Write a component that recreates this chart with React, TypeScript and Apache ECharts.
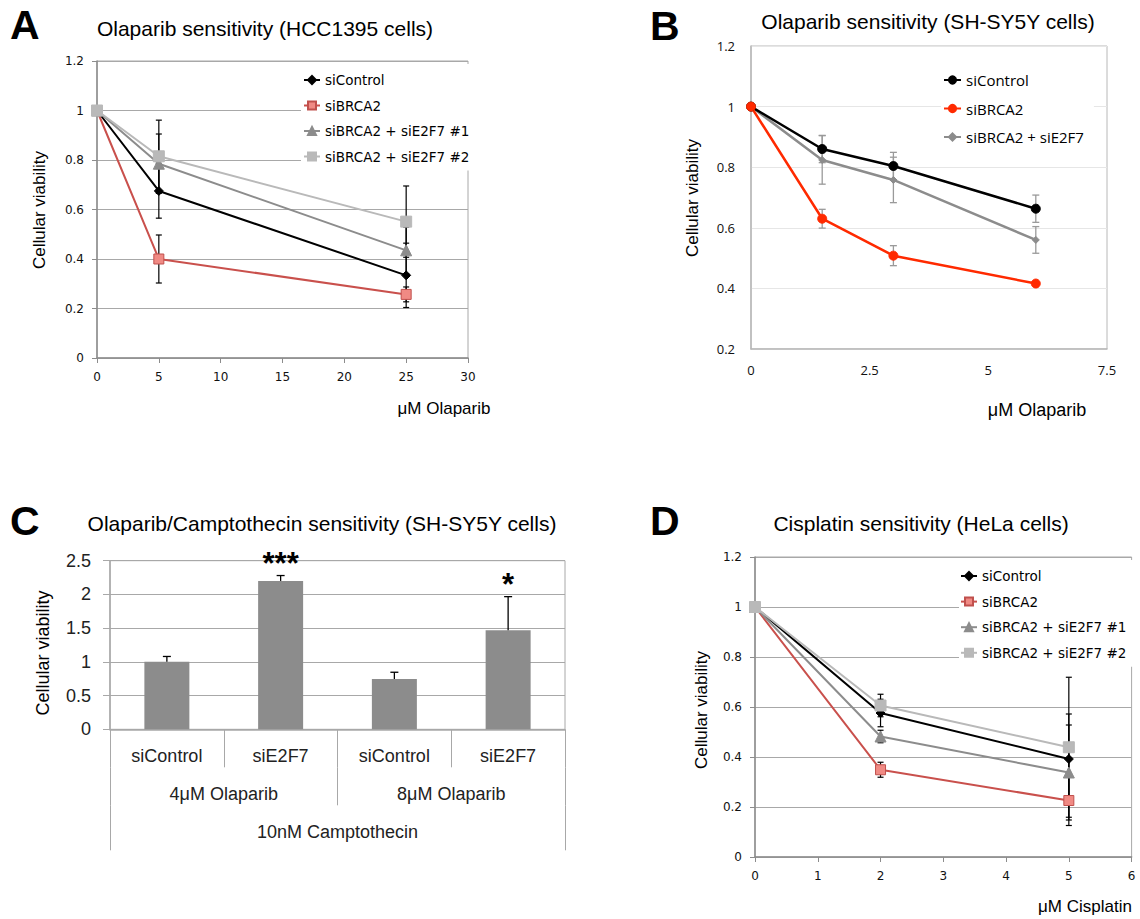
import React, { useEffect, useRef } from 'react';
import * as echarts from 'echarts';

const SANS = '"Liberation Sans", Arial, Helvetica, sans-serif';
const DV = '"DejaVu Sans", sans-serif';
const OS = '"Open Sans", sans-serif';

// ---------- Panel A data ----------
const A_X = [0, 5, 25];
const A_NAMES = ['siControl', 'siBRCA2', 'siBRCA2 + siE2F7 #1', 'siBRCA2 + siE2F7 #2'];
const A_SICONTROL = [1, 0.675, 0.334];
const A_SIBRCA2 = [1, 0.4, 0.257];
const A_E2F7_1 = [1, 0.785, 0.435];
const A_E2F7_2 = [1, 0.815, 0.551];
const A_ERR_SICONTROL = [0, 0.11, 0.13];
const A_ERR_SIBRCA2 = [0, 0.097, 0.03];
const A_ERR_E2F7_1 = [0, 0.12, 0.094];
const A_ERR_E2F7_2 = [0, 0.146, 0.144];

// ---------- Panel B data ----------
const B_X = [0, 1.5, 3, 6];
const B_NAMES = ['siControl', 'siBRCA2', 'siBRCA2 + siE2F7'];
const B_SICONTROL = [1, 0.86, 0.804, 0.663];
const B_SIBRCA2 = [1, 0.63, 0.508, 0.416];
const B_E2F7 = [1, 0.824, 0.758, 0.56];
const B_ERR_SICONTROL = [0, 0.045, 0.045, 0.045];
const B_ERR_SIBRCA2 = [0, 0.031, 0.033, 0];
const B_ERR_E2F7 = [0, 0.08, 0.075, 0.044];

// ---------- Panel C data ----------
const C_CATS = ['siControl', 'siE2F7', 'siControl', 'siE2F7'];
const C_GROUPS = ['4μM Olaparib', '8μM Olaparib'];
const C_TOP = ['10nM Camptothecin'];
const C_VALUES = [1.0, 2.2, 0.746, 1.467];
const C_ERR = [0.08, 0.08, 0.1, 0.5];
const C_SIG = ['', '***', '', '*'];

// ---------- Panel D data ----------
const D_X = [0, 2, 5];
const D_NAMES = ['siControl', 'siBRCA2', 'siBRCA2 + siE2F7 #1', 'siBRCA2 + siE2F7 #2'];
const D_SICONTROL = [1, 0.576, 0.392];
const D_SIBRCA2 = [1, 0.349, 0.226];
const D_E2F7_1 = [1, 0.482, 0.338];
const D_E2F7_2 = [1, 0.606, 0.439];
const D_ERR_SICONTROL = [0, 0.055, 0.18];
const D_ERR_SIBRCA2 = [0, 0.03, 0.1];
const D_ERR_E2F7_1 = [0, 0.025, 0.19];
const D_ERR_E2F7_2 = [0, 0.045, 0.28];

// ---------- styles ----------
const AD_STYLE = [
  { color: '#000000', line: '#000000', symbol: 'diamond', size: 9, border: '#000000' },
  { color: '#f08a84', line: '#c9504c', symbol: 'rect', size: 10, border: '#c0504d' },
  { color: '#8c8c8c', line: '#8c8c8c', symbol: 'triangle', size: 11, border: '#8c8c8c' },
  { color: '#b9b9b9', line: '#b9b9b9', symbol: 'rect', size: 11, border: '#b9b9b9' },
];
const B_STYLE = [
  { color: '#000000', line: '#000000', symbol: 'circle', size: 9, border: '#000000' },
  { color: '#ff2a00', line: '#ff2a00', symbol: 'circle', size: 9, border: '#ff2a00' },
  { color: '#8c8c8c', line: '#8c8c8c', symbol: 'diamond', size: 7, border: '#8c8c8c' },
];

function errRender(capHalf: number, color: string, width: number, upperOnly = false) {
  return (params: any, api: any) => {
    const x = api.value(0);
    const lo = api.value(1);
    const hi = api.value(2);
    const a = api.coord([x, lo]);
    const b = api.coord([x, hi]);
    const st = { stroke: color, lineWidth: width };
    const children: any[] = [
      { type: 'line', shape: { x1: a[0], y1: a[1], x2: b[0], y2: b[1] }, style: st },
      { type: 'line', shape: { x1: b[0] - capHalf, y1: b[1], x2: b[0] + capHalf, y2: b[1] }, style: st },
    ];
    if (!upperOnly) {
      children.push({ type: 'line', shape: { x1: a[0] - capHalf, y1: a[1], x2: a[0] + capHalf, y2: a[1] }, style: st });
    }
    return { type: 'group', children };
  };
}

function lineSeries(name: string, xs: number[], ys: number[], s: any, width: number) {
  return {
    type: 'line',
    name,
    data: xs.map((x, i) => [x, ys[i]]),
    symbol: s.symbol,
    symbolSize: s.size,
    showSymbol: true,
    itemStyle: { color: s.color, borderColor: s.border, borderWidth: 1 },
    lineStyle: { color: s.line, width },
    z: 3,
    silent: true,
  };
}

function errSeries(xs: number[], ys: number[], errs: number[], color: string, capHalf: number, width: number) {
  const data: number[][] = [];
  xs.forEach((x, i) => {
    if (errs[i] > 0) data.push([x, ys[i] - errs[i], ys[i] + errs[i]]);
  });
  return {
    type: 'custom',
    data,
    renderItem: errRender(capHalf, color, width),
    encode: { x: 0, y: [1, 2] },
    z: 2,
    silent: true,
  };
}

function txt(text: string, x: number, y: number, size: number, opts: any = {}) {
  return {
    type: 'text',
    x,
    y,
    rotation: opts.rotation || 0,
    silent: true,
    style: {
      text,
      fill: opts.color || '#000',
      fontSize: size,
      fontFamily: opts.family || SANS,
      fontWeight: opts.weight || 'normal',
      align: opts.align || 'center',
      verticalAlign: 'middle',
    },
  };
}

const AD_AXIS_COLOR = '#8c8c8c';
const AD_GRID_COLOR = '#a8a8a8';

function adAxes(xmax: number, xint: number) {
  return {
    xAxis: {
      type: 'value',
      min: 0,
      max: xmax,
      interval: xint,
      axisLine: { show: true, onZero: false, lineStyle: { color: AD_AXIS_COLOR, width: 1.5 } },
      axisTick: { show: true, length: 5, lineStyle: { color: AD_AXIS_COLOR } },
      splitLine: { show: false },
      axisLabel: { margin: 13, fontFamily: DV, fontSize: 12, color: '#111' },
    },
    yAxis: {
      type: 'value',
      min: 0,
      max: 1.2,
      interval: 0.2,
      axisLine: { show: true, lineStyle: { color: AD_AXIS_COLOR, width: 1.5 } },
      axisTick: { show: true, length: 5, lineStyle: { color: AD_AXIS_COLOR } },
      splitLine: { show: true, lineStyle: { color: AD_GRID_COLOR } },
      axisLabel: { margin: 13, fontFamily: DV, fontSize: 12, color: '#111' },
    },
  };
}

// ---------- Option A ----------
const optA: any = {
  animation: false,
  grid: { left: 97, top: 61, width: 371, height: 297, show: true, borderColor: AD_GRID_COLOR, borderWidth: 1 },
  ...adAxes(30, 5),
  legend: {
    orient: 'vertical',
    left: 301,
    top: 64,
    padding: [8, 10, 6, 2],
    backgroundColor: '#fff',
    itemWidth: 16,
    itemHeight: 10,
    itemGap: 9.5,
    textStyle: { fontFamily: DV, fontSize: 13.5, color: '#000', lineHeight: 16 },
    data: A_NAMES,
  },
  graphic: [
    txt('A', 10, 25, 41, { weight: 'bold', align: 'left' }),
    txt('Olaparib sensitivity (HCC1395 cells)', 265, 28, 21),
    txt('Cellular viability', 39, 210, 17, { rotation: Math.PI / 2 }),
    txt('μM Olaparib', 444, 408, 17),
  ],
  series: [
    errSeries(A_X, A_SICONTROL, A_ERR_SICONTROL, '#000', 3, 1.2),
    errSeries(A_X, A_SIBRCA2, A_ERR_SIBRCA2, '#000', 3, 1.2),
    errSeries(A_X, A_E2F7_1, A_ERR_E2F7_1, '#000', 3, 1.2),
    errSeries(A_X, A_E2F7_2, A_ERR_E2F7_2, '#000', 3, 1.2),
    lineSeries(A_NAMES[0], A_X, A_SICONTROL, AD_STYLE[0], 2),
    lineSeries(A_NAMES[1], A_X, A_SIBRCA2, AD_STYLE[1], 2),
    lineSeries(A_NAMES[2], A_X, A_E2F7_1, AD_STYLE[2], 2),
    lineSeries(A_NAMES[3], A_X, A_E2F7_2, AD_STYLE[3], 2),
  ],
};

// ---------- Option B ----------
const optB: any = {
  animation: false,
  grid: { left: 181, top: 46, width: 356, height: 303, show: true, borderColor: '#b8b8b8', borderWidth: 1 },
  xAxis: {
    type: 'value',
    min: 0,
    max: 7.5,
    interval: 2.5,
    axisLine: { show: true, onZero: false, lineStyle: { color: '#b8b8b8', width: 1.5 } },
    axisTick: { show: false },
    splitLine: { show: false },
    axisLabel: { margin: 14, fontFamily: OS, fontSize: 13, color: '#111' },
  },
  yAxis: {
    type: 'value',
    min: 0.2,
    max: 1.2,
    interval: 0.2,
    axisLine: { show: true, lineStyle: { color: '#b8b8b8', width: 1.5 } },
    axisTick: { show: false },
    splitLine: { show: true, lineStyle: { color: '#e6e6e6' } },
    axisLabel: { margin: 16, fontFamily: OS, fontSize: 13, color: '#111' },
  },
  legend: {
    orient: 'vertical',
    left: 371,
    top: 64,
    padding: [8, 10, 6, 2],
    backgroundColor: '#fff',
    itemWidth: 17,
    itemHeight: 9,
    itemGap: 12.5,
    textStyle: { fontFamily: OS, fontSize: 15, color: '#000', lineHeight: 16 },
    data: B_NAMES,
  },
  graphic: [
    txt('B', 80, 26, 41, { weight: 'bold', align: 'left' }),
    txt('Olaparib sensitivity (SH-SY5Y cells)', 358, 21, 21),
    txt('Cellular viability', 122, 198, 17, { rotation: Math.PI / 2 }),
    txt('μM Olaparib', 467, 410, 18),
  ],
  series: [
    errSeries(B_X, B_SICONTROL, B_ERR_SICONTROL, '#9a9a9a', 3.5, 1.3),
    errSeries(B_X, B_SIBRCA2, B_ERR_SIBRCA2, '#9a9a9a', 3.5, 1.3),
    errSeries(B_X, B_E2F7, B_ERR_E2F7, '#9a9a9a', 3.5, 1.3),
    lineSeries(B_NAMES[2], B_X, B_E2F7, B_STYLE[2], 2.5),
    lineSeries(B_NAMES[0], B_X, B_SICONTROL, B_STYLE[0], 2.5),
    lineSeries(B_NAMES[1], B_X, B_SIBRCA2, B_STYLE[1], 2.5),
  ],
};

// ---------- Option C ----------
const C_LINE = '#a8a8a8';
const C_LABEL = { fontFamily: SANS, fontSize: 18, color: '#222', interval: 0, margin: 18 };
const sigItems = C_SIG.map((s, i) => ({ s, i })).filter((o) => o.s);
const optC: any = {
  animation: false,
  grid: { left: 110, top: 100.7, width: 455, height: 168.6, show: true, borderColor: C_LINE, borderWidth: 1 },
  xAxis: [
    {
      type: 'category',
      data: C_CATS,
      position: 'bottom',
      axisLine: { show: true, lineStyle: { color: C_LINE, width: 1.5 } },
      axisTick: { show: true, length: 38, interval: 0, lineStyle: { color: C_LINE } },
      axisLabel: { ...C_LABEL },
      splitLine: { show: false },
    },
    {
      type: 'category',
      data: C_GROUPS,
      position: 'bottom',
      offset: 38,
      axisLine: { show: false },
      axisTick: { show: true, length: 38, interval: 0, lineStyle: { color: C_LINE } },
      axisLabel: { ...C_LABEL },
      splitLine: { show: false },
    },
    {
      type: 'category',
      data: C_TOP,
      position: 'bottom',
      offset: 76,
      axisLine: { show: false },
      axisTick: { show: true, length: 45, interval: 0, lineStyle: { color: C_LINE } },
      axisLabel: { ...C_LABEL },
      splitLine: { show: false },
    },
  ],
  yAxis: {
    type: 'value',
    min: 0,
    max: 2.5,
    interval: 0.5,
    axisLine: { show: true, lineStyle: { color: C_LINE, width: 1.5 } },
    axisTick: { show: true, length: 7, lineStyle: { color: C_LINE } },
    splitLine: { show: true, lineStyle: { color: C_LINE, width: 1.2 } },
    axisLabel: { margin: 19, fontFamily: SANS, fontSize: 18, color: '#222' },
  },
  graphic: [
    txt('C', 10, 60.5, 41, { weight: 'bold', align: 'left' }),
    txt('Olaparib/Camptothecin sensitivity (SH-SY5Y cells)', 322, 63.5, 21),
    txt('Cellular viability', 43, 193, 18, { rotation: Math.PI / 2 }),
  ],
  series: [
    {
      type: 'bar',
      xAxisIndex: 0,
      data: C_VALUES,
      barWidth: 45,
      itemStyle: { color: '#8c8c8c' },
      z: 2,
      silent: true,
    },
    {
      type: 'custom',
      xAxisIndex: 0,
      data: C_VALUES.map((v, i) => [i, v, v + C_ERR[i]]),
      renderItem: errRender(4, '#000', 1.3, true),
      encode: { x: 0, y: [1, 2] },
      z: 3,
      silent: true,
    },
    {
      type: 'custom',
      xAxisIndex: 0,
      data: sigItems.map((o) => [o.i, C_VALUES[o.i] + C_ERR[o.i]]),
      encode: { x: 0, y: 1 },
      renderItem: (params: any, api: any) => {
        const p = api.coord([api.value(0), api.value(1)]);
        return {
          type: 'text',
          x: p[0],
          y: p[1] - 12,
          style: {
            text: sigItems[params.dataIndex].s,
            fontSize: 31,
            fontWeight: 'bold',
            fontFamily: SANS,
            fill: '#000',
            align: 'center',
            verticalAlign: 'middle',
          },
        };
      },
      z: 4,
      silent: true,
    },
  ],
};

// ---------- Option D ----------
const optD: any = {
  animation: false,
  grid: { left: 185, top: 97, width: 376.6, height: 300, show: true, borderColor: AD_GRID_COLOR, borderWidth: 1 },
  ...adAxes(6, 1),
  legend: {
    orient: 'vertical',
    left: 389,
    top: 100,
    padding: [8, 8, 6, 1],
    backgroundColor: '#fff',
    itemWidth: 16,
    itemHeight: 10,
    itemGap: 9.6,
    textStyle: { fontFamily: DV, fontSize: 13.5, color: '#000', lineHeight: 16 },
    data: D_NAMES,
  },
  graphic: [
    txt('D', 80, 60.5, 41, { weight: 'bold', align: 'left' }),
    txt('Cisplatin sensitivity (HeLa cells)', 351, 63.5, 21),
    txt('Cellular viability', 131, 250, 17, { rotation: Math.PI / 2 }),
    txt('μM Cisplatin', 468, 446, 17, { align: 'left' }),
  ],
  series: [
    errSeries(D_X, D_SICONTROL, D_ERR_SICONTROL, '#000', 3, 1.2),
    errSeries(D_X, D_SIBRCA2, D_ERR_SIBRCA2, '#000', 3, 1.2),
    errSeries(D_X, D_E2F7_1, D_ERR_E2F7_1, '#000', 3, 1.2),
    errSeries(D_X, D_E2F7_2, D_ERR_E2F7_2, '#000', 3, 1.2),
    lineSeries(D_NAMES[0], D_X, D_SICONTROL, AD_STYLE[0], 2),
    lineSeries(D_NAMES[1], D_X, D_SIBRCA2, AD_STYLE[1], 2),
    lineSeries(D_NAMES[2], D_X, D_E2F7_1, AD_STYLE[2], 2),
    lineSeries(D_NAMES[3], D_X, D_E2F7_2, AD_STYLE[3], 2),
  ],
};

function Panel({ option, style }: { option: any; style: any }) {
  const ref = useRef<HTMLDivElement>(null);
  useEffect(() => {
    const chart = echarts.init(ref.current as HTMLDivElement, null, { renderer: 'svg' });
    chart.setOption(option);
    return () => chart.dispose();
  }, [option]);
  return <div ref={ref} style={{ position: 'absolute', ...style }} />;
}

export default function App() {
  return (
    <div style={{ position: 'absolute', left: 0, top: 0, width: 1140, height: 919, background: '#fff', overflow: 'hidden' }}>
      <Panel option={optA} style={{ left: 0, top: 0, width: 570, height: 460 }} />
      <Panel option={optB} style={{ left: 570, top: 0, width: 570, height: 460 }} />
      <Panel option={optC} style={{ left: 0, top: 460, width: 570, height: 459 }} />
      <Panel option={optD} style={{ left: 570, top: 460, width: 570, height: 459 }} />
    </div>
  );
}
